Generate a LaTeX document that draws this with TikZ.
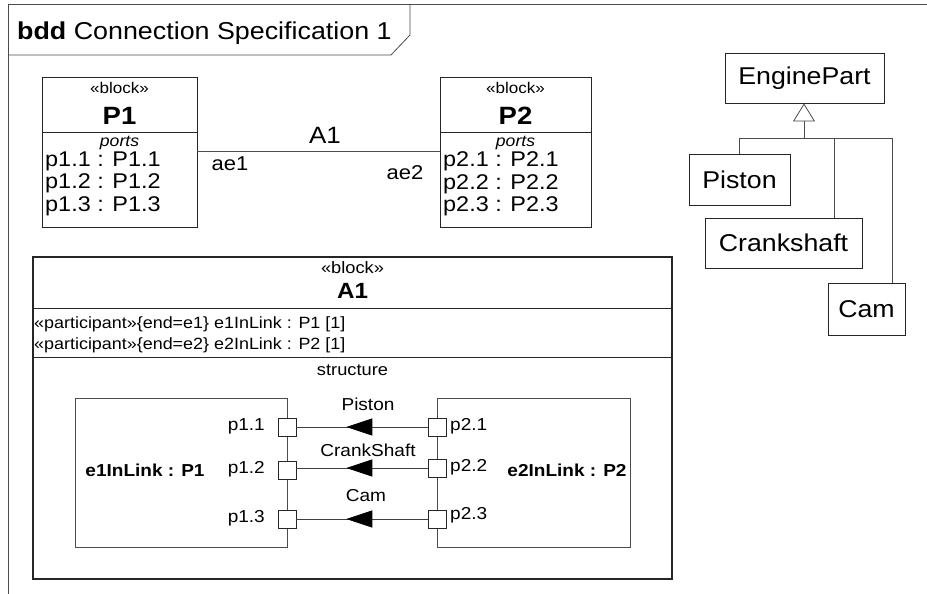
\documentclass[tikz,border=0pt]{standalone}
\usepackage{fontspec}
\setmainfont{Liberation Sans}[FakeStretch=1.1]
\usetikzlibrary{arrows.meta,decorations.markings,calc}
\tikzset{
  box/.style={draw=black!85, line width=0.9pt, inner sep=0pt},
  thin/.style={draw=black!70, line width=0.8pt},
  port/.style={draw=black!85, line width=0.9pt, fill=white, minimum size=18pt, inner sep=0pt},
  conn/.style={draw=black!75, line width=0.8pt, postaction={decorate},
    decoration={markings, mark=at position 0.62 with {\arrow[black]{Triangle[length=26pt,width=17pt]}}}},
  fs/.style={font=\fontsize{#1}{#1}\selectfont},
  lbl/.style={inner sep=0pt},
}
\begin{document}
\begin{tikzpicture}[x=1pt,y=-1pt]
\useasboundingbox (0,0) rectangle (927,594);
\fill[white] (0,0) rectangle (927,594);
% frame
\coordinate (ftr) at (927,4);
\coordinate (ftl) at (8,4);
\coordinate (fbl) at (8,594);
\draw[thin] (ftr) -- (ftl) -- (fbl);
\coordinate (tab1) at (410,4);
\coordinate (tab2) at (410,35);
\coordinate (tab3) at (391,55);
\coordinate (tab4) at (8,55);
\draw[thin] (tab1) -- (tab2) -- (tab3) -- (tab4);
\node[lbl, anchor=base west, fs=24.4] (title) at (17,40) {\textbf{bdd} Connection Specification 1};

% P1 block
\node[box, minimum width=155pt, minimum height=150pt] (P1) at (119.5,152) {};
\draw[box] (P1.west |- 0,132) coordinate (p1d) -- (P1.east |- 0,132);
\node[lbl, fs=15.5] (P1st) at (119.5,88) {«block»};
\node[lbl, fs=25] (P1nm) at (119.5,116) {\textbf{P1}};
\node[lbl, fs=16] (P1pt) at (119.5,143) {\itshape ports};
\node[lbl, anchor=north west, align=left, font=\fontsize{21.3}{22.5}\selectfont] (P1ports) at (45,151.5) {p1.1 : P1.1\\p1.2 : P1.2\\p1.3 : P1.3};

% P2 block
\node[box, minimum width=151pt, minimum height=150pt] (P2) at (515.5,152) {};
\draw[box] (P2.west |- 0,132) -- (P2.east |- 0,132);
\node[lbl, fs=15.5] (P2st) at (515.5,88) {«block»};
\node[lbl, fs=25] (P2nm) at (515.5,116) {\textbf{P2}};
\node[lbl, fs=16] (P2pt) at (515.5,143) {\itshape ports};
\node[lbl, anchor=north west, align=left, font=\fontsize{21.3}{22.5}\selectfont] (P2ports) at (443,151.5) {p2.1 : P2.1\\p2.2 : P2.2\\p2.3 : P2.3};

% association A1
\coordinate (a1s) at (P1.east |- 0,151);
\coordinate (a1e) at (P2.west |- 0,151);
\draw[thin] (a1s) -- (a1e);
\node[lbl, fs=23.6] (A1lbl) at (325,135) {A1};
\node[lbl, fs=20] (ae1) at (230,164) {ae1};
\node[lbl, fs=20] (ae2) at (405,173) {ae2};

% Generalization
\node[box, fs=24.3, minimum width=159pt, minimum height=50pt] (EP) at (804.5,78) {EnginePart};
\node[box, fs=24.3, minimum width=101pt, minimum height=51pt] (Piston) at (739.5,179.5) {Piston};
\node[box, fs=24.3, minimum width=157pt, minimum height=50pt] (Crank) at (783.5,243) {Crankshaft};
\node[box, fs=24.3, minimum width=77pt, minimum height=52pt] (Cam) at (866.5,309) {Cam};
\coordinate (gj) at (804,138);
\coordinate (gc) at (834,138);
\coordinate (gm) at (892,138);
\draw[thin, line width=1pt, -{Triangle[open,length=18pt,width=22pt,line width=0.8pt]}] (gj) -- (gj |- EP.south);
\draw[thin] (Piston.north) |- (gm) -- (gm |- Cam.north);
\draw[thin] (gc) -- (gc |- Crank.north);

% A1 block
\node[box, line width=1.1pt, minimum width=639pt, minimum height=322pt] (A1) at (352.5,418) {};
\draw[box] (A1.west |- 0,308) -- (A1.east |- 0,308);
\draw[box] (A1.west |- 0,357) -- (A1.east |- 0,357);
\node[lbl, fs=16.6] (A1st) at (352.5,268) {«block»};
\node[lbl, fs=22] (A1nm) at (352.5,291) {\textbf{A1}};
\node[lbl, anchor=base west, fs=16.3] (part1) at (34,328) {«participant»\{end=e1\} e1InLink : P1 [1]};
\node[lbl, anchor=base west, fs=16.3] (part2) at (34,349) {«participant»\{end=e2\} e2InLink : P2 [1]};
\node[lbl, fs=16.6] (struct) at (352.5,370) {structure};

% inner parts
\node[thin, draw, minimum width=212pt, minimum height=149pt] (e1) at (181,472.5) {};
\node[thin, draw, minimum width=193pt, minimum height=149pt] (e2) at (533.5,472.5) {};
\node[lbl, fs=17.3] (e1lbl) at (145,470) {\textbf{e1InLink : P1}};
\node[lbl, fs=17.3] (e2lbl) at (567,470) {\textbf{e2InLink : P2}};

\node[port] (p11) at (287,427) {};
\node[port] (p12) at (287,470) {};
\node[port] (p13) at (287,519) {};
\node[port] (p21) at (437,427) {};
\node[port] (p22) at (437,468) {};
\node[port] (p23) at (437,519) {};
\node[lbl, anchor=east, fs=17.3] at (265,426) {p1.1};
\node[lbl, anchor=east, fs=17.3] at (265,469) {p1.2};
\node[lbl, anchor=east, fs=17.3] at (265,518) {p1.3};
\node[lbl, anchor=west, fs=17.3] at (450,426) {p2.1};
\node[lbl, anchor=west, fs=17.3] at (450,467) {p2.2};
\node[lbl, anchor=west, fs=17.3] at (450,515) {p2.3};

\draw[conn] (p21.west) -- (p11.east);
\draw[conn] (p22.west) -- (p12.east |- p22.west);
\draw[conn] (p23.west) -- (p13.east);
\node[lbl, fs=17.3] (cl1) at (368,404) {Piston};
\node[lbl, fs=17.3] (cl2) at (368,450) {CrankShaft};
\node[lbl, fs=17.3] (cl3) at (366,496) {Cam};
\end{tikzpicture}
\end{document}
